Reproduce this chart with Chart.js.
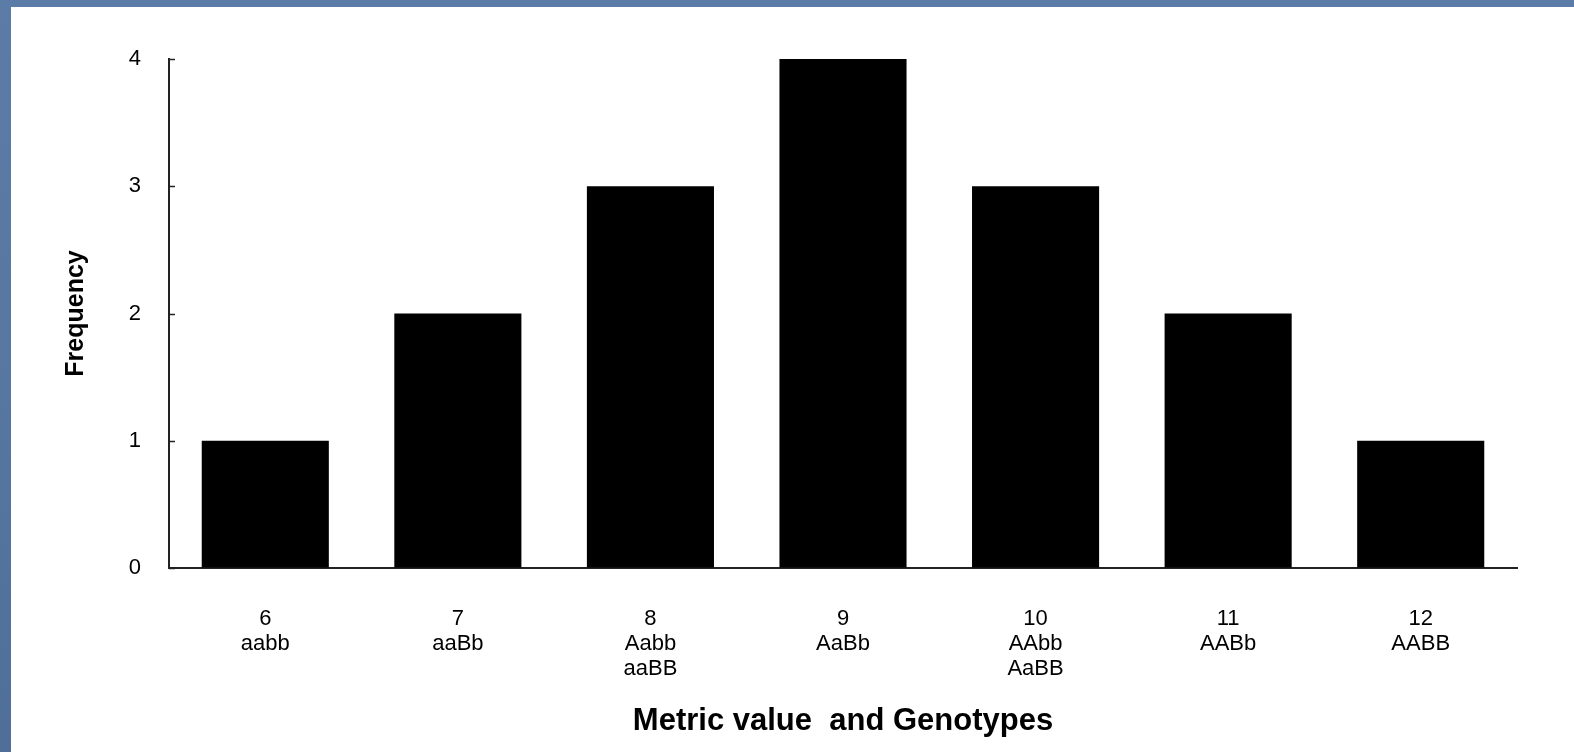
<!DOCTYPE html>
<html>
<head>
<meta charset="utf-8">
<script src="https://cdn.jsdelivr.net/npm/chart.js@4/dist/chart.umd.min.js"></script>
<style>
  html, body { margin: 0; padding: 0; }
  body {
    width: 1574px; height: 752px; overflow: hidden;
    background: linear-gradient(180deg, #5b7ca7 0%, #56779f 50%, #4f6f99 100%);
    position: relative;
  }
  #panel {
    position: absolute; left: 11px; top: 7px;
    width: 1563px; height: 745px; background: #fff;
  }
</style>
</head>
<body>
<div id="panel"><canvas id="chart" width="1563" height="745"></canvas></div>
<script>
// data
const metricValues = ['6', '7', '8', '9', '10', '11', '12'];
const genotypes = [['aabb'], ['aaBb'], ['Aabb', 'aaBB'], ['AaBb'], ['AAbb', 'AaBB'], ['AABb'], ['AABB']];
const frequency = [1, 2, 3, 4, 3, 2, 1];
const yTicks = [0, 1, 2, 3, 4];

const labels = metricValues.map((v, i) => [v, ...genotypes[i]]);
const FONT = '"Liberation Sans", Arial, sans-serif';

// short tick marks pointing into the plot, like the original
const innerTicks = {
  id: 'innerTicks',
  afterDraw(chart) {
    const y = chart.scales.y;
    const ctx = chart.ctx;
    ctx.save();
    ctx.strokeStyle = '#222';
    ctx.lineWidth = 1.5;
    yTicks.forEach(t => {
      const py = Math.round(y.getPixelForValue(t)) + 0.5;
      ctx.beginPath();
      ctx.moveTo(y.right, py);
      ctx.lineTo(y.right + 6, py);
      ctx.stroke();
    });
    ctx.restore();
  }
};

new Chart(document.getElementById('chart'), {
  type: 'bar',
  data: {
    labels: labels,
    datasets: [{
      label: 'Frequency',
      data: frequency,
      backgroundColor: '#000',
      barPercentage: 0.66,
      categoryPercentage: 1
    }]
  },
  options: {
    responsive: false,
    animation: false,
    layout: { padding: { left: 0, right: 57, top: 52, bottom: 0 } },
    plugins: { legend: { display: false }, tooltip: { enabled: false } },
    scales: {
      x: {
        grid: { drawOnChartArea: false, drawTicks: false },
        border: { color: '#222', width: 2 },
        ticks: {
          color: '#000', padding: 38, maxRotation: 0,
          font: { family: FONT, size: 22, lineHeight: '25px' }
        },
        title: {
          display: true, text: 'Metric value  and Genotypes', color: '#000',
          font: { family: FONT, size: 31, weight: 'bold' },
          padding: { top: 0, bottom: 12 }
        },
        afterFit(scale) { scale.height = 184; }
      },
      y: {
        min: 0, max: 4,
        grid: { drawOnChartArea: false, drawTicks: false },
        border: { color: '#222', width: 2 },
        ticks: {
          stepSize: 1, color: '#000', padding: 28,
          font: { family: FONT, size: 22 }
        },
        title: {
          display: true, text: 'Frequency', color: '#000',
          font: { family: FONT, size: 25, weight: 'bold' },
          padding: { top: 50, bottom: 0 }
        },
        afterFit(scale) { scale.width = 158; }
      }
    }
  },
  plugins: [innerTicks]
});
</script>
</body>
</html>
